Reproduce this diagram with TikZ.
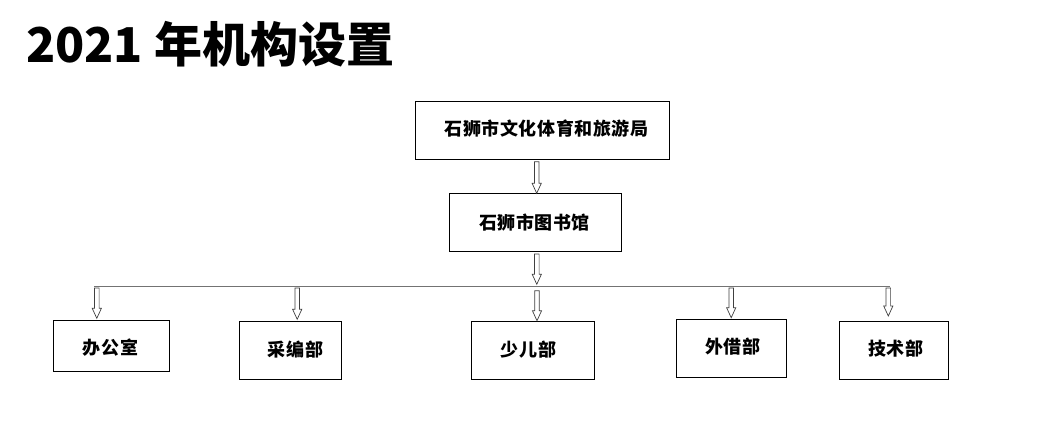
\documentclass[tikz,border=0pt]{standalone}
\usepackage{fontspec}
\newfontfamily\cjk{Noto Sans CJK SC}
\newfontfamily\cjklbl{Noto Sans CJK SC}[LetterSpace=3]
\usetikzlibrary{calc}
\tikzset{
  box/.style={draw=black, line width=0.9pt, inner sep=0pt, fill=white},
  lbl/.style={inner sep=0pt, font=\cjklbl\bfseries\fontsize{18}{21}\selectfont},
  hollow/.style={draw=black!75, line width=0.7pt, fill=white, line join=miter},
  bus/.style={draw=black!55, line width=1.2pt}
}
\newcommand\hollowarrow[2]{%
  \draw[hollow] let \p1=(#1), \p2=(#2) in
    (\x1-2.3pt,\y1) -- (\x1-2.3pt,\y2+10pt) -- (\x1-4.6pt,\y2+10pt) -- (\x1,\y2)
    -- (\x1+4.6pt,\y2+10pt) -- (\x1+2.3pt,\y2+10pt) -- (\x1+2.3pt,\y1) -- cycle;}
\begin{document}
\begin{tikzpicture}[x=1pt,y=-1pt]
\useasboundingbox (0,0) rectangle (1060,430);
\fill[white] (0,0) rectangle (1060,430);

% title
\node[anchor=base west, inner sep=0pt, font=\cjk\bfseries\fontsize{48}{56}\selectfont] (title) at (26,63) {2021 年机构设置};

% boxes
\node[box, minimum width=254pt, minimum height=58pt] (bureau) at (542.2,130.5) {};
\node[lbl] (bureau-t) at (546.5,129) {石狮市文化体育和旅游局};

\node[box, minimum width=172pt, minimum height=58pt] (lib) at (535.5,222.5) {};
\node[lbl] (lib-t) at (534.5,222.5) {石狮市图书馆};

\node[box, minimum width=115.5pt, minimum height=50.5pt] (b1) at (111.2,345.9) {};
\node[lbl] (b1-t) at (110.5,347.5) {办公室};

\node[box, minimum width=102pt, minimum height=58pt] (b2) at (290.3,350.9) {};
\node[lbl] (b2-t) at (295.5,349.5) {采编部};

\node[box, minimum width=123pt, minimum height=58pt] (b3) at (533.3,350.9) {};
\node[lbl] (b3-t) at (528.5,350) {少儿部};

\node[box, minimum width=110pt, minimum height=58pt] (b4) at (731.7,348.3) {};
\node[lbl] (b4-t) at (733,347) {外借部};

\node[box, minimum width=109pt, minimum height=57.5pt] (b5) at (893.7,350.3) {};
\node[lbl] (b5-t) at (896,349) {技术部};

% connector coordinates
\coordinate (a1s) at (536.7,161.7);
\coordinate (a1e) at (536.7,193.3);
\coordinate (a2s) at (536.8,254);
\coordinate (a2e) at (536.8,284.3);
\coordinate (busL) at (94.3,286.7);
\coordinate (busR) at (890,286.7);
\coordinate (d1s) at (96.8,288);   \coordinate (d1e) at (96.8,318.3);
\coordinate (d2s) at (297.2,288);  \coordinate (d2e) at (297.2,319.3);
\coordinate (d3s) at (537,290.7);  \coordinate (d3e) at (537,320.7);
\coordinate (d4s) at (731.2,288);  \coordinate (d4e) at (731.2,317.7);
\coordinate (d5s) at (888.3,288);  \coordinate (d5e) at (888.3,316);

\draw[bus] (busL) -- (busR);

\hollowarrow{a1s}{a1e}
\hollowarrow{a2s}{a2e}
\hollowarrow{d1s}{d1e}
\hollowarrow{d2s}{d2e}
\hollowarrow{d3s}{d3e}
\hollowarrow{d4s}{d4e}
\hollowarrow{d5s}{d5e}
\end{tikzpicture}
\end{document}
